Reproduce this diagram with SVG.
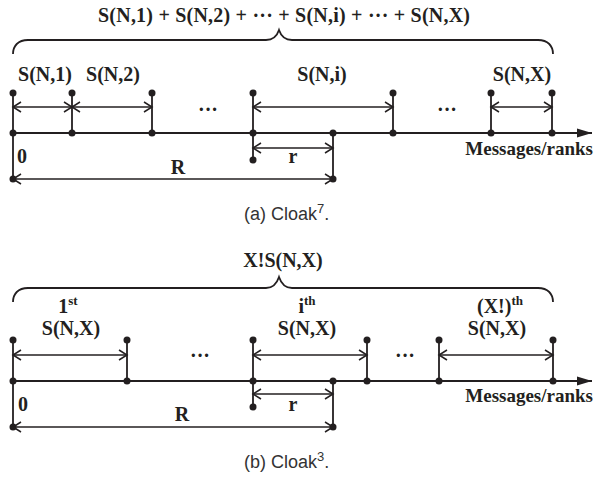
<svg xmlns="http://www.w3.org/2000/svg" width="596" height="478" viewBox="0 0 596 478">
<style>
.ln{stroke:#231f20;stroke-width:1.8;fill:none}
.ar{stroke:#231f20;stroke-width:1.5;fill:none;marker-start:url(#ah);marker-end:url(#ah)}
.dot{fill:#231f20}
.t{font-family:"Liberation Serif",serif;font-weight:bold;font-size:20px;fill:#231f20}
.m{font-family:"Liberation Serif",serif;font-weight:bold;font-size:19px;fill:#231f20}
.sup{font-size:13px}
.cap{font-family:"Liberation Sans",Arial,sans-serif;font-size:18px;fill:#333}
.csup{font-size:13px}
</style>
<defs>
<marker id="ah" markerUnits="userSpaceOnUse" markerWidth="12" markerHeight="12" viewBox="-1 -6 12 12" refX="8" refY="0" orient="auto-start-reverse">
<path d="M0,-5 L8,0 L0,5" fill="none" stroke="#231f20" stroke-width="1.5"/>
</marker>
<marker id="tri" markerUnits="userSpaceOnUse" markerWidth="16" markerHeight="12" viewBox="0 -6 16 12" refX="15" refY="0" orient="auto">
<path d="M0,-4.5 L15,0 L0,4.5 Z" fill="#231f20"/>
</marker>
</defs>

<g id="partA">
<g id="a-labels">
<text class="t" x="284" y="22" text-anchor="middle" textLength="372" lengthAdjust="spacing">S(N,1) + S(N,2) +  ··· + S(N,i)  +  ··· + S(N,X)</text>
<text class="t" x="45" y="81" text-anchor="middle">S(N,1)</text>
<text class="t" x="113" y="81" text-anchor="middle">S(N,2)</text>
<text class="t" x="322" y="81" text-anchor="middle">S(N,i)</text>
<text class="t" x="522" y="81" text-anchor="middle">S(N,X)</text>
<text class="t" x="208" y="116" text-anchor="middle">···</text>
<text class="t" x="447" y="116" text-anchor="middle">···</text>
<text class="t" x="17" y="163">0</text>
<text class="t" x="293" y="163" text-anchor="middle">r</text>
<text class="t" x="178" y="174" text-anchor="middle">R</text>
<text class="m" x="593" y="155" text-anchor="end">Messages/ranks</text>
<text class="cap" x="244" y="220">(a)  Cloak<tspan class="csup" dy="-7">7</tspan><tspan dy="7">.</tspan></text>
</g>
<g id="a-connectors">
<path class="ln" d="M13,54 C13,46 18,40 28,40 L266,40 C273,40 277,36 279,30 C281,36 285,40 292,40 L538,40 C548,40 553,46 553,54"/>
<line class="ln" x1="13" y1="133" x2="592" y2="133" marker-end="url(#tri)"/>
<line class="ln" x1="13" y1="93" x2="13" y2="178"/>
<line class="ln" x1="72" y1="93" x2="72" y2="133"/>
<line class="ln" x1="152" y1="93" x2="152" y2="133"/>
<line class="ln" x1="253" y1="93" x2="253" y2="160"/>
<line class="ln" x1="393" y1="93" x2="393" y2="133"/>
<line class="ln" x1="491" y1="93" x2="491" y2="133"/>
<line class="ln" x1="552" y1="93" x2="552" y2="133"/>
<line class="ln" x1="333" y1="133" x2="333" y2="178"/>
<line class="ar" x1="13" y1="107" x2="72" y2="107"/>
<line class="ar" x1="72" y1="107" x2="152" y2="107"/>
<line class="ar" x1="253" y1="107" x2="393" y2="107"/>
<line class="ar" x1="491" y1="107" x2="552" y2="107"/>
<line class="ar" x1="253" y1="148" x2="333" y2="148"/>
<line class="ar" x1="13" y1="179" x2="333" y2="179"/>
</g>
<g id="a-dots" class="dot">
<circle cx="13" cy="93" r="3.5"/><circle cx="72" cy="93" r="3.5"/><circle cx="152" cy="93" r="3.5"/><circle cx="253" cy="93" r="3.5"/><circle cx="393" cy="93" r="3.5"/><circle cx="491" cy="93" r="3.5"/><circle cx="552" cy="93" r="3.5"/>
<circle cx="13" cy="133" r="3.5"/><circle cx="72" cy="133" r="3.5"/><circle cx="152" cy="133" r="3.5"/><circle cx="253" cy="133" r="3.5"/><circle cx="333" cy="133" r="3.5"/><circle cx="393" cy="133" r="3.5"/><circle cx="491" cy="133" r="3.5"/><circle cx="552" cy="133" r="3.5"/>
<circle cx="253" cy="160" r="3.5"/><circle cx="13" cy="179" r="3.5"/><circle cx="333" cy="179" r="3.5"/>
</g>
</g>

<g id="partB">
<g id="b-labels">
<text class="t" x="283" y="267" text-anchor="middle">X!S(N,X)</text>
<text class="t" x="68" y="313" text-anchor="middle">1<tspan class="sup" dy="-8">st</tspan></text>
<text class="t" x="71" y="335" text-anchor="middle">S(N,X)</text>
<text class="t" x="307" y="313" text-anchor="middle">i<tspan class="sup" dy="-8">th</tspan></text>
<text class="t" x="307" y="335" text-anchor="middle">S(N,X)</text>
<text class="t" x="500" y="313" text-anchor="middle">(X!)<tspan class="sup" dy="-8">th</tspan></text>
<text class="t" x="497" y="335" text-anchor="middle">S(N,X)</text>
<text class="t" x="200" y="362" text-anchor="middle">···</text>
<text class="t" x="405" y="362" text-anchor="middle">···</text>
<text class="t" x="18" y="411">0</text>
<text class="t" x="293" y="411" text-anchor="middle">r</text>
<text class="t" x="182" y="421" text-anchor="middle">R</text>
<text class="m" x="593" y="402" text-anchor="end">Messages/ranks</text>
<text class="cap" x="244" y="468">(b)  Cloak<tspan class="csup" dy="-7">3</tspan><tspan dy="7">.</tspan></text>
</g>
<g id="b-connectors">
<path class="ln" d="M13,302 C13,294 18,288 28,288 L266,288 C273,288 277,283 279,277 C281,283 285,288 292,288 L538,288 C548,288 553,294 553,302"/>
<line class="ln" x1="13" y1="381" x2="592" y2="381" marker-end="url(#tri)"/>
<line class="ln" x1="13" y1="340" x2="13" y2="427"/>
<line class="ln" x1="127" y1="340" x2="127" y2="381"/>
<line class="ln" x1="253" y1="340" x2="253" y2="407"/>
<line class="ln" x1="367" y1="340" x2="367" y2="381"/>
<line class="ln" x1="439" y1="340" x2="439" y2="381"/>
<line class="ln" x1="553" y1="340" x2="553" y2="381"/>
<line class="ln" x1="333" y1="381" x2="333" y2="427"/>
<line class="ar" x1="13" y1="355" x2="127" y2="355"/>
<line class="ar" x1="253" y1="355" x2="367" y2="355"/>
<line class="ar" x1="439" y1="355" x2="553" y2="355"/>
<line class="ar" x1="253" y1="394" x2="333" y2="394"/>
<line class="ar" x1="13" y1="427" x2="333" y2="427"/>
</g>
<g id="b-dots" class="dot">
<circle cx="13" cy="340" r="3.5"/><circle cx="127" cy="340" r="3.5"/><circle cx="253" cy="340" r="3.5"/><circle cx="367" cy="340" r="3.5"/><circle cx="439" cy="340" r="3.5"/><circle cx="553" cy="340" r="3.5"/>
<circle cx="13" cy="381" r="3.5"/><circle cx="127" cy="381" r="3.5"/><circle cx="253" cy="381" r="3.5"/><circle cx="333" cy="381" r="3.5"/><circle cx="367" cy="381" r="3.5"/><circle cx="439" cy="381" r="3.5"/><circle cx="553" cy="381" r="3.5"/>
<circle cx="253" cy="407" r="3.5"/><circle cx="13" cy="427" r="3.5"/><circle cx="333" cy="427" r="3.5"/>
</g>
</g>
</svg>
